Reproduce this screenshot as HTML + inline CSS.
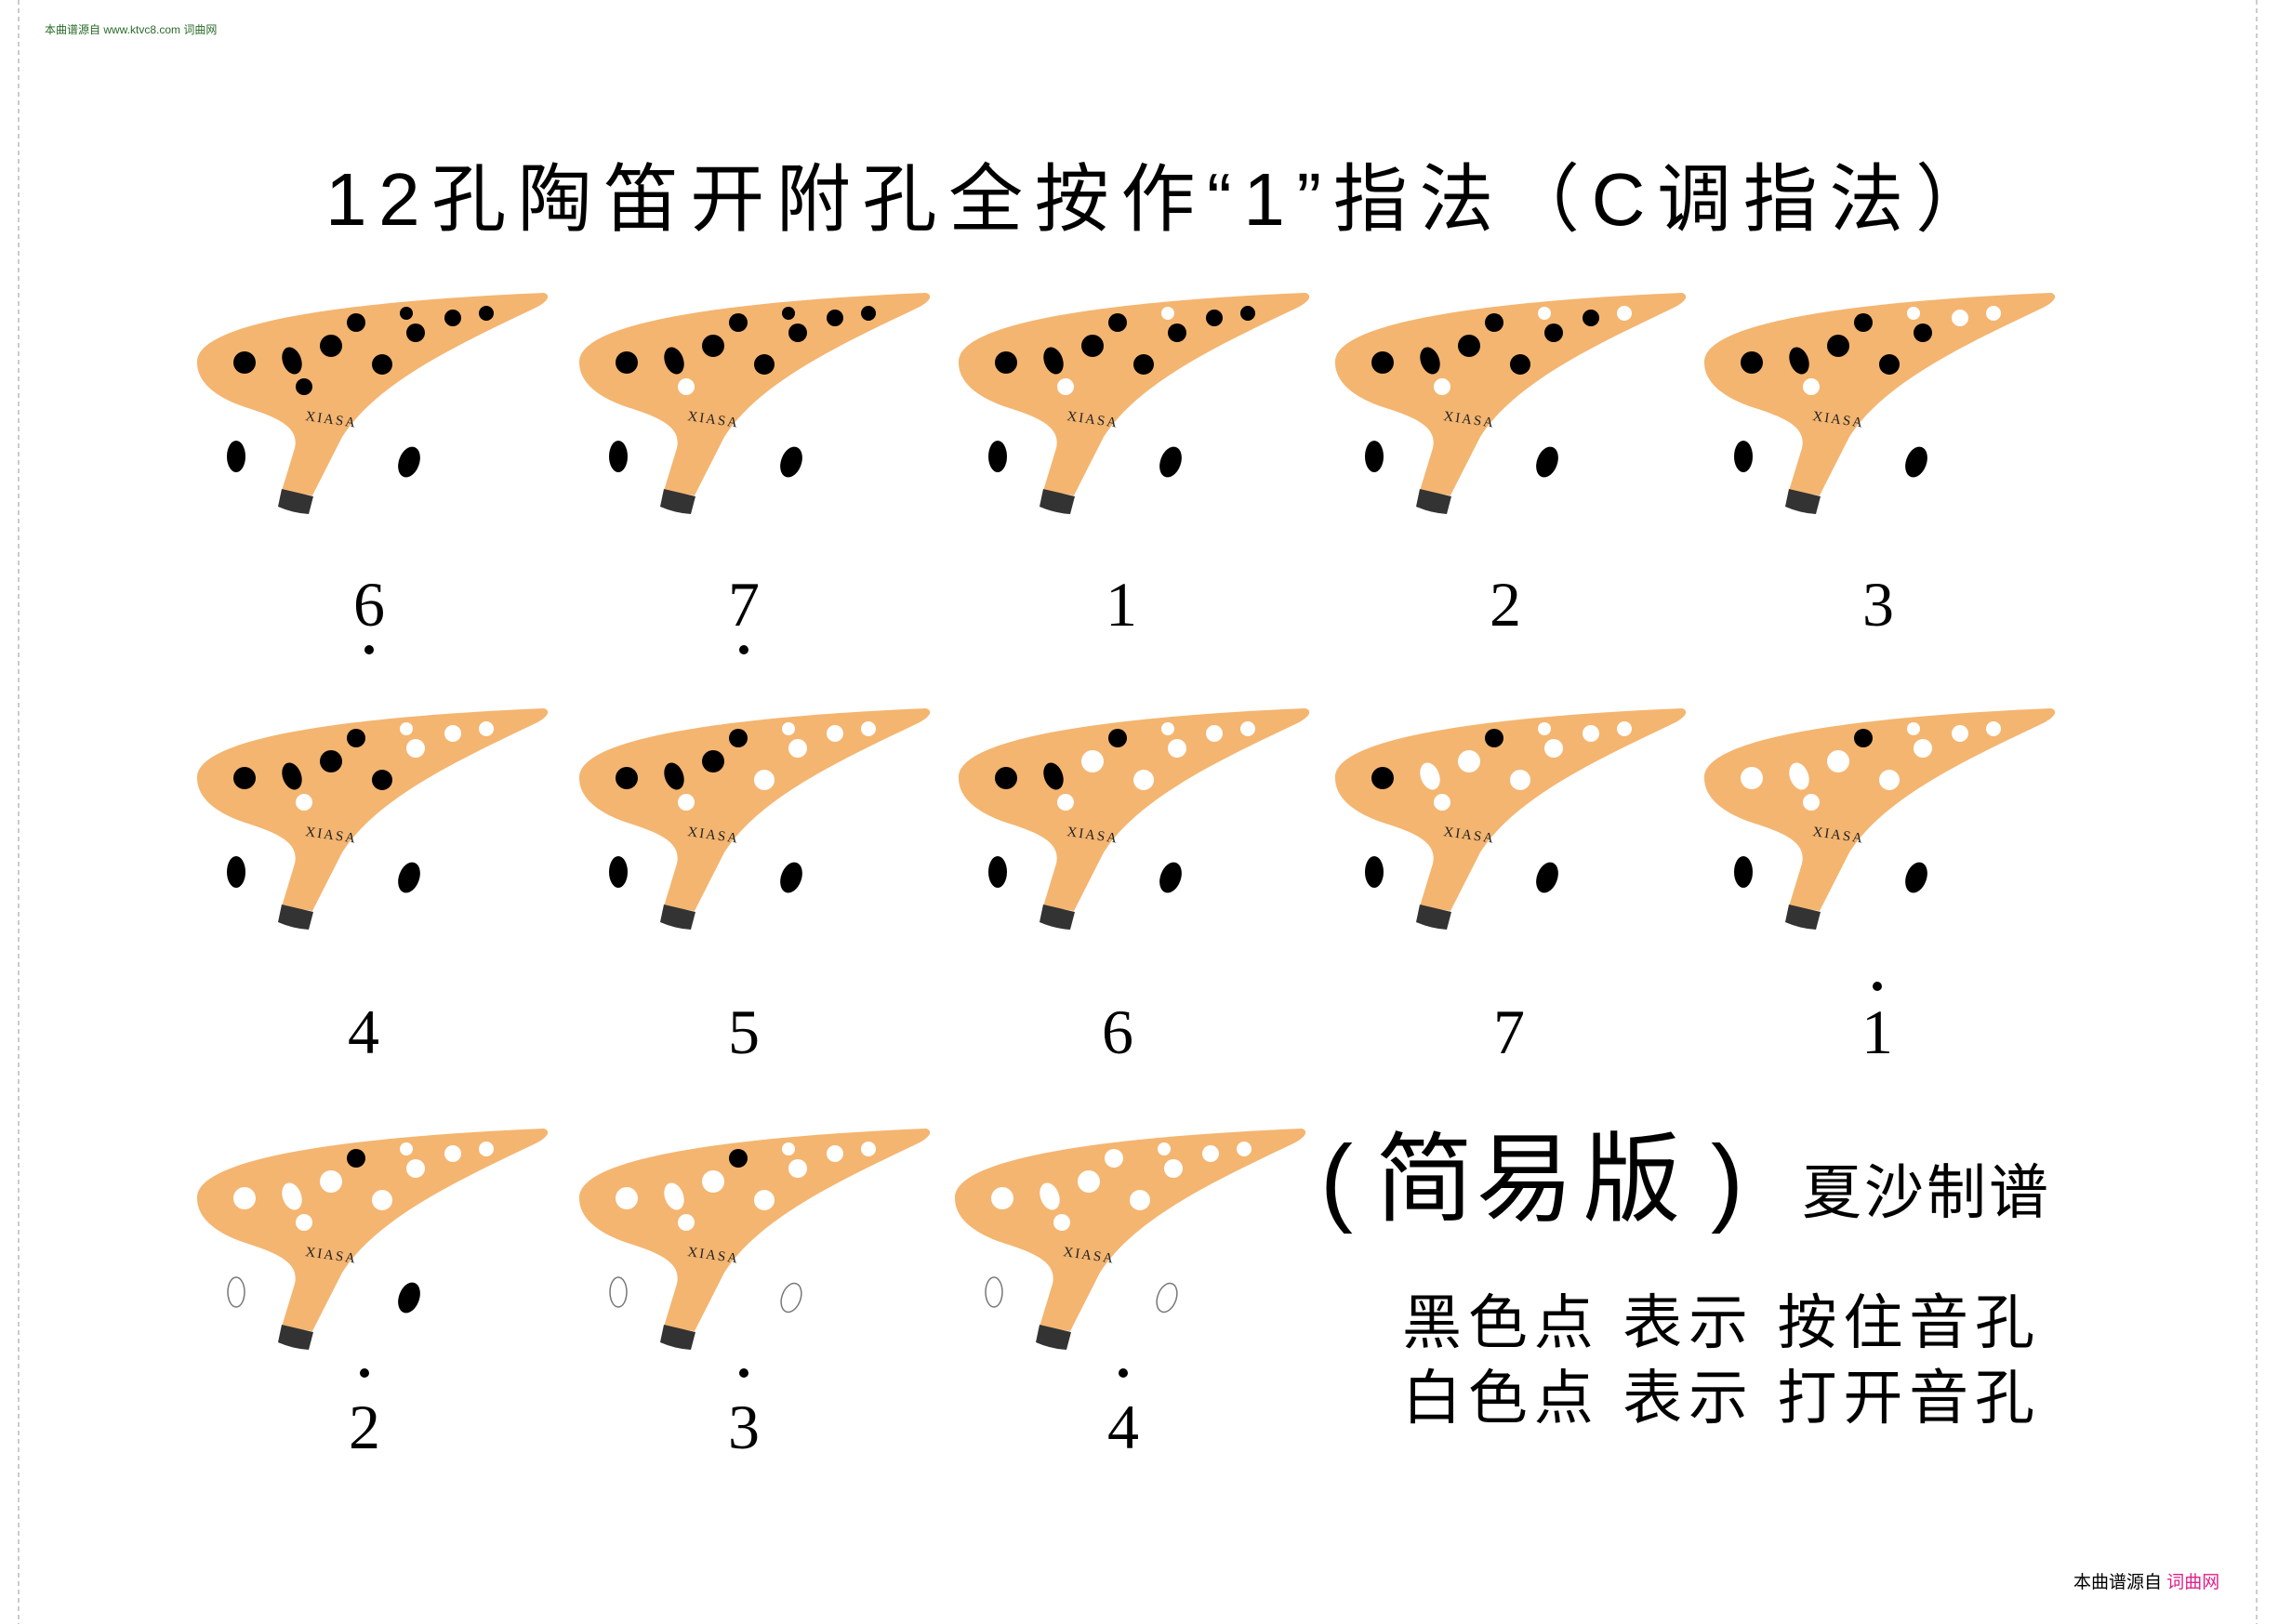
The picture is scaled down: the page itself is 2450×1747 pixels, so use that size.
<!DOCTYPE html>
<html><head><meta charset="utf-8"><style>
html,body{margin:0;padding:0;background:#fff}
svg{display:block}
.b{fill:#000}.w{fill:#fff}.o{fill:#fff;stroke:#777;stroke-width:1.5}
.lab{font-family:"Liberation Serif",serif;font-size:68px;fill:#000;text-anchor:middle}
.cj{font-family:"Liberation Sans","Noto Sans CJK SC",sans-serif;fill:#000}
.jy{font-family:"Liberation Sans","Noto Sans CJK SC",sans-serif;fill:#000;font-size:105px;text-anchor:middle}
.xs{font-family:"Liberation Serif",serif;font-size:15px;fill:#222;letter-spacing:2px}
</style></head><body>
<svg width="2450" height="1747" viewBox="0 0 2450 1747" xmlns="http://www.w3.org/2000/svg">
<defs>
<g id="body">
<path d="M12,100 C10,60 150,35 385,25 C394,28 388,36 372,43 C290,82 205,122 168,180 L136,243 L103,238 L117,192 C122,170 100,160 70,150 C30,138 12,120 12,100 Z" fill="#f4b570"/>
<path d="M103,236 L137,244 L132,263 Q115,262 99,255 Z" fill="#333"/>
<text class="xs" x="0" y="0" transform="translate(128,162) rotate(8)">XIASA</text>
</g>
</defs>
<rect width="2450" height="1747" fill="#fff"/>
<line x1="20" y1="0" x2="20" y2="1747" stroke="#bbb" stroke-width="1.5" stroke-dasharray="5,4"/>
<line x1="2427" y1="0" x2="2427" y2="1747" stroke="#bbb" stroke-width="1.5" stroke-dasharray="5,4"/>
<text x="48" y="36" font-family="Liberation Sans,'Noto Sans CJK SC',sans-serif" font-size="12" fill="#2a6a2a">本曲谱源自 www.ktvc8.com 词曲网</text>
<text x="2230" y="1708" font-family="Liberation Sans,'Noto Sans CJK SC',sans-serif" font-size="19" fill="#000">本曲谱源自 <tspan fill="#e0208a">词曲网</tspan></text>

<text class="cj" x="350" y="242" font-size="80" textLength="1790" lengthAdjust="spacing">12孔陶笛开附孔全按作“1”指法（C调指法）</text>

<g transform="translate(200,290)"><use href="#body"/>
<circle class="b" cx="63" cy="100" r="12"/><ellipse class="b" cx="114" cy="98" rx="10" ry="15" transform="rotate(-20 114 98)"/><circle class="b" cx="127" cy="126" r="9"/><circle class="b" cx="156" cy="82" r="12"/><circle class="b" cx="183" cy="57" r="10"/><circle class="b" cx="211" cy="102" r="11"/><circle class="b" cx="237" cy="47" r="7"/><circle class="b" cx="247" cy="68" r="10"/><circle class="b" cx="287" cy="52" r="9"/><circle class="b" cx="323" cy="47" r="8"/><ellipse class="b" cx="54" cy="201" rx="10" ry="17"/><ellipse class="b" cx="240" cy="207" rx="11" ry="17" transform="rotate(20 240 207)"/></g>
<g transform="translate(611,290)"><use href="#body"/>
<circle class="b" cx="63" cy="100" r="12"/><ellipse class="b" cx="114" cy="98" rx="10" ry="15" transform="rotate(-20 114 98)"/><circle class="w" cx="127" cy="126" r="9"/><circle class="b" cx="156" cy="82" r="12"/><circle class="b" cx="183" cy="57" r="10"/><circle class="b" cx="211" cy="102" r="11"/><circle class="b" cx="237" cy="47" r="7"/><circle class="b" cx="247" cy="68" r="10"/><circle class="b" cx="287" cy="52" r="9"/><circle class="b" cx="323" cy="47" r="8"/><ellipse class="b" cx="54" cy="201" rx="10" ry="17"/><ellipse class="b" cx="240" cy="207" rx="11" ry="17" transform="rotate(20 240 207)"/></g>
<g transform="translate(1019,290)"><use href="#body"/>
<circle class="b" cx="63" cy="100" r="12"/><ellipse class="b" cx="114" cy="98" rx="10" ry="15" transform="rotate(-20 114 98)"/><circle class="w" cx="127" cy="126" r="9"/><circle class="b" cx="156" cy="82" r="12"/><circle class="b" cx="183" cy="57" r="10"/><circle class="b" cx="211" cy="102" r="11"/><circle class="w" cx="237" cy="47" r="7"/><circle class="b" cx="247" cy="68" r="10"/><circle class="b" cx="287" cy="52" r="9"/><circle class="b" cx="323" cy="47" r="8"/><ellipse class="b" cx="54" cy="201" rx="10" ry="17"/><ellipse class="b" cx="240" cy="207" rx="11" ry="17" transform="rotate(20 240 207)"/></g>
<g transform="translate(1424,290)"><use href="#body"/>
<circle class="b" cx="63" cy="100" r="12"/><ellipse class="b" cx="114" cy="98" rx="10" ry="15" transform="rotate(-20 114 98)"/><circle class="w" cx="127" cy="126" r="9"/><circle class="b" cx="156" cy="82" r="12"/><circle class="b" cx="183" cy="57" r="10"/><circle class="b" cx="211" cy="102" r="11"/><circle class="w" cx="237" cy="47" r="7"/><circle class="b" cx="247" cy="68" r="10"/><circle class="b" cx="287" cy="52" r="9"/><circle class="w" cx="323" cy="47" r="8"/><ellipse class="b" cx="54" cy="201" rx="10" ry="17"/><ellipse class="b" cx="240" cy="207" rx="11" ry="17" transform="rotate(20 240 207)"/></g>
<g transform="translate(1821,290)"><use href="#body"/>
<circle class="b" cx="63" cy="100" r="12"/><ellipse class="b" cx="114" cy="98" rx="10" ry="15" transform="rotate(-20 114 98)"/><circle class="w" cx="127" cy="126" r="9"/><circle class="b" cx="156" cy="82" r="12"/><circle class="b" cx="183" cy="57" r="10"/><circle class="b" cx="211" cy="102" r="11"/><circle class="w" cx="237" cy="47" r="7"/><circle class="b" cx="247" cy="68" r="10"/><circle class="w" cx="287" cy="52" r="9"/><circle class="w" cx="323" cy="47" r="8"/><ellipse class="b" cx="54" cy="201" rx="10" ry="17"/><ellipse class="b" cx="240" cy="207" rx="11" ry="17" transform="rotate(20 240 207)"/></g>

<g transform="translate(200,737)"><use href="#body"/>
<circle class="b" cx="63" cy="100" r="12"/><ellipse class="b" cx="114" cy="98" rx="10" ry="15" transform="rotate(-20 114 98)"/><circle class="w" cx="127" cy="126" r="9"/><circle class="b" cx="156" cy="82" r="12"/><circle class="b" cx="183" cy="57" r="10"/><circle class="b" cx="211" cy="102" r="11"/><circle class="w" cx="237" cy="47" r="7"/><circle class="w" cx="247" cy="68" r="10"/><circle class="w" cx="287" cy="52" r="9"/><circle class="w" cx="323" cy="47" r="8"/><ellipse class="b" cx="54" cy="201" rx="10" ry="17"/><ellipse class="b" cx="240" cy="207" rx="11" ry="17" transform="rotate(20 240 207)"/></g>
<g transform="translate(611,737)"><use href="#body"/>
<circle class="b" cx="63" cy="100" r="12"/><ellipse class="b" cx="114" cy="98" rx="10" ry="15" transform="rotate(-20 114 98)"/><circle class="w" cx="127" cy="126" r="9"/><circle class="b" cx="156" cy="82" r="12"/><circle class="b" cx="183" cy="57" r="10"/><circle class="w" cx="211" cy="102" r="11"/><circle class="w" cx="237" cy="47" r="7"/><circle class="w" cx="247" cy="68" r="10"/><circle class="w" cx="287" cy="52" r="9"/><circle class="w" cx="323" cy="47" r="8"/><ellipse class="b" cx="54" cy="201" rx="10" ry="17"/><ellipse class="b" cx="240" cy="207" rx="11" ry="17" transform="rotate(20 240 207)"/></g>
<g transform="translate(1019,737)"><use href="#body"/>
<circle class="b" cx="63" cy="100" r="12"/><ellipse class="b" cx="114" cy="98" rx="10" ry="15" transform="rotate(-20 114 98)"/><circle class="w" cx="127" cy="126" r="9"/><circle class="w" cx="156" cy="82" r="12"/><circle class="b" cx="183" cy="57" r="10"/><circle class="w" cx="211" cy="102" r="11"/><circle class="w" cx="237" cy="47" r="7"/><circle class="w" cx="247" cy="68" r="10"/><circle class="w" cx="287" cy="52" r="9"/><circle class="w" cx="323" cy="47" r="8"/><ellipse class="b" cx="54" cy="201" rx="10" ry="17"/><ellipse class="b" cx="240" cy="207" rx="11" ry="17" transform="rotate(20 240 207)"/></g>
<g transform="translate(1424,737)"><use href="#body"/>
<circle class="b" cx="63" cy="100" r="12"/><ellipse class="w" cx="114" cy="98" rx="10" ry="15" transform="rotate(-20 114 98)"/><circle class="w" cx="127" cy="126" r="9"/><circle class="w" cx="156" cy="82" r="12"/><circle class="b" cx="183" cy="57" r="10"/><circle class="w" cx="211" cy="102" r="11"/><circle class="w" cx="237" cy="47" r="7"/><circle class="w" cx="247" cy="68" r="10"/><circle class="w" cx="287" cy="52" r="9"/><circle class="w" cx="323" cy="47" r="8"/><ellipse class="b" cx="54" cy="201" rx="10" ry="17"/><ellipse class="b" cx="240" cy="207" rx="11" ry="17" transform="rotate(20 240 207)"/></g>
<g transform="translate(1821,737)"><use href="#body"/>
<circle class="w" cx="63" cy="100" r="12"/><ellipse class="w" cx="114" cy="98" rx="10" ry="15" transform="rotate(-20 114 98)"/><circle class="w" cx="127" cy="126" r="9"/><circle class="w" cx="156" cy="82" r="12"/><circle class="b" cx="183" cy="57" r="10"/><circle class="w" cx="211" cy="102" r="11"/><circle class="w" cx="237" cy="47" r="7"/><circle class="w" cx="247" cy="68" r="10"/><circle class="w" cx="287" cy="52" r="9"/><circle class="w" cx="323" cy="47" r="8"/><ellipse class="b" cx="54" cy="201" rx="10" ry="17"/><ellipse class="b" cx="240" cy="207" rx="11" ry="17" transform="rotate(20 240 207)"/></g>

<g transform="translate(200,1189)"><use href="#body"/>
<circle class="w" cx="63" cy="100" r="12"/><ellipse class="w" cx="114" cy="98" rx="10" ry="15" transform="rotate(-20 114 98)"/><circle class="w" cx="127" cy="126" r="9"/><circle class="w" cx="156" cy="82" r="12"/><circle class="b" cx="183" cy="57" r="10"/><circle class="w" cx="211" cy="102" r="11"/><circle class="w" cx="237" cy="47" r="7"/><circle class="w" cx="247" cy="68" r="10"/><circle class="w" cx="287" cy="52" r="9"/><circle class="w" cx="323" cy="47" r="8"/><ellipse class="o" cx="54" cy="201" rx="9" ry="16"/><ellipse class="b" cx="240" cy="207" rx="11" ry="17" transform="rotate(20 240 207)"/></g>
<g transform="translate(611,1189)"><use href="#body"/>
<circle class="w" cx="63" cy="100" r="12"/><ellipse class="w" cx="114" cy="98" rx="10" ry="15" transform="rotate(-20 114 98)"/><circle class="w" cx="127" cy="126" r="9"/><circle class="w" cx="156" cy="82" r="12"/><circle class="b" cx="183" cy="57" r="10"/><circle class="w" cx="211" cy="102" r="11"/><circle class="w" cx="237" cy="47" r="7"/><circle class="w" cx="247" cy="68" r="10"/><circle class="w" cx="287" cy="52" r="9"/><circle class="w" cx="323" cy="47" r="8"/><ellipse class="o" cx="54" cy="201" rx="9" ry="16"/><ellipse class="o" cx="240" cy="207" rx="10" ry="16" transform="rotate(20 240 207)"/></g>
<g transform="translate(1015,1189)"><use href="#body"/>
<circle class="w" cx="63" cy="100" r="12"/><ellipse class="w" cx="114" cy="98" rx="10" ry="15" transform="rotate(-20 114 98)"/><circle class="w" cx="127" cy="126" r="9"/><circle class="w" cx="156" cy="82" r="12"/><circle class="w" cx="183" cy="57" r="10"/><circle class="w" cx="211" cy="102" r="11"/><circle class="w" cx="237" cy="47" r="7"/><circle class="w" cx="247" cy="68" r="10"/><circle class="w" cx="287" cy="52" r="9"/><circle class="w" cx="323" cy="47" r="8"/><ellipse class="o" cx="54" cy="201" rx="9" ry="16"/><ellipse class="o" cx="240" cy="207" rx="10" ry="16" transform="rotate(20 240 207)"/></g>

<text class="lab" x="397" y="673">6</text><circle cx="397" cy="699" r="5"/>
<text class="lab" x="800" y="673">7</text><circle cx="800" cy="699" r="5"/>
<text class="lab" x="1206" y="673">1</text>
<text class="lab" x="1619" y="673">2</text>
<text class="lab" x="2020" y="673">3</text>

<text class="lab" x="391" y="1133">4</text>
<text class="lab" x="800" y="1133">5</text>
<text class="lab" x="1202" y="1133">6</text>
<text class="lab" x="1623" y="1133">7</text>
<text class="lab" x="2019" y="1133">1</text><circle cx="2019" cy="1061" r="5"/>

<text class="lab" x="392" y="1558">2</text><circle cx="392" cy="1477" r="5"/>
<text class="lab" x="800" y="1558">3</text><circle cx="800" cy="1477" r="5"/>
<text class="lab" x="1208" y="1558">4</text><circle cx="1208" cy="1477" r="5"/>

<text class="jy" x="1420" y="1305" text-anchor="start" style="text-anchor:start">(</text>
<text class="jy" x="1532" y="1305">简</text>
<text class="jy" x="1640" y="1305">易</text>
<text class="jy" x="1755" y="1305">版</text>
<text class="jy" x="1840" y="1305" style="text-anchor:start">)</text>
<text class="cj" x="1938" y="1305" font-size="64" textLength="265" lengthAdjust="spacing">夏沙制谱</text>
<text class="cj" x="1508" y="1445" font-size="64" textLength="680" lengthAdjust="spacing">黑色点 表示 按住音孔</text>
<text class="cj" x="1508" y="1526" font-size="64" textLength="680" lengthAdjust="spacing">白色点 表示 打开音孔</text>
</svg>
</body></html>
